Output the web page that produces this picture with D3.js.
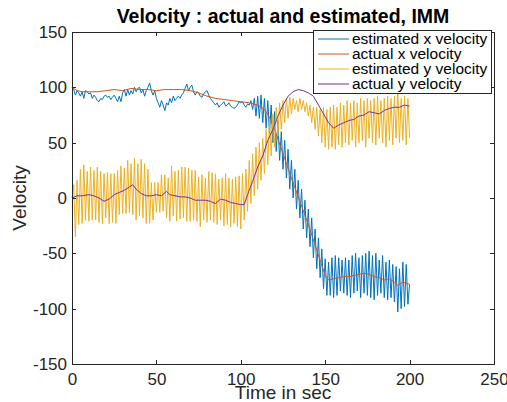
<!DOCTYPE html>
<html>
<head>
<meta charset="utf-8">
<script src="https://cdn.jsdelivr.net/npm/d3@7"></script>
<style>
  body { margin: 0; background: #fff; }
  svg { display: block; font-family: "Liberation Sans", Arial, sans-serif; }
</style>
</head>
<body>
<svg id="container" width="507" height="402"></svg>
<script>
const width = 507;
const height = 402;
const margin = ({top: 32, right: 13, bottom: 38, left: 72});

const xTicks = [0, 50, 100, 150, 200, 250];
const yTicks = [-150, -100, -50, 0, 50, 100, 150];

const seriesNames = ["estimated x velocity", "actual x velocity", "estimated y velocity", "actual y velocity"];
const colors = ["#0072BD", "#D95319", "#EDB120", "#7E2F8E"];

// estimated series, one value per second, t = 0..200
const estTime = d3.range(0, 201);
const estX = [
  100,98,93,97,95,92,96,90,97,96,
  94,95,90,93,91,88,87,90,89,92,
  93,91,92,89,91,93,90,87,92,87,
  95,98,92,98,93,97,94,100,96,99,
  100,95,98,92,97,100,104,97,93,97,
  90,86,82,88,84,79,86,84,90,86,
  92,88,90,92,90,93,95,99,103,97,
  100,102,96,93,96,95,92,91,94,96,
  97,93,90,88,86,84,86,82,84,85,
  87,83,84,86,83,82,81,82,84,87,
  86,87,84,82,85,84,88,80,90,74,
  92,72,93,68,90,63,88,58,84,50,
  78,42,70,34,60,26,52,18,44,8,
  34,0,26,-10,16,-18,8,-28,-2,-36,
  -10,-44,-18,-54,-28,-64,-36,-72,-46,-82,
  -55,-88,-58,-88,-54,-90,-52,-88,-54,-84,
  -56,-86,-54,-88,-56,-90,-52,-86,-50,-84,
  -54,-90,-52,-86,-50,-88,-48,-90,-52,-92,
  -50,-88,-56,-86,-52,-90,-58,-92,-56,-90,
  -60,-94,-62,-103,-64,-100,-58,-98,-60,-96,
  -78
];
const estY = [
  0,12,-35,16,-24,26,-23,30,-20,24,
  -21,28,-20,25,-20,28,-22,24,-23,22,
  -18,23,-23,22,-22,22,-23,25,-15,29,
  -14,27,-14,34,-13,31,-15,36,-20,31,
  -16,35,-18,31,-23,26,-23,14,-20,14,
  -13,14,-13,21,-12,21,-18,18,-21,29,
  -16,24,-21,25,-19,28,-18,28,-21,27,
  -21,25,-20,25,-21,19,-26,21,-20,18,
  -22,24,-20,23,-22,22,-24,17,-20,18,
  -25,22,-24,18,-26,17,-23,19,-26,20,
  -28,22,-20,26,-12,34,-5,40,2,46,
  8,50,16,54,22,62,30,70,38,76,
  46,82,56,86,62,88,68,90,72,91,
  76,90,80,88,78,90,80,88,78,86,
  74,84,68,82,62,82,56,80,50,82,
  46,80,44,82,46,84,44,82,48,86,
  46,84,50,88,48,86,52,88,46,86,
  50,90,52,88,46,90,54,88,50,90,
  48,92,54,88,50,90,46,92,52,90,
  48,92,54,98,50,90,52,92,48,90,
  54
];

// actual series
const actXTime = [0,3,6,10,15,20,25,30,35,40,45,50,55,60,65,70,75,80,85,90,95,100,105,110,114,117,120,125,130,135,140,145,150,152,155,158,161,164,167,170,173,176,179,182,185,188,191,193,196,200];
const actX = [100,97,96,96,96,97,98,97,99,98,98,97,98,98,98,97,95,92,90,89,88,87,86,84,80,73,62,40,18,-3,-24,-47,-70,-74,-73,-72,-71,-71,-70,-69,-68,-69,-71,-72,-74,-73,-76,-79,-76,-78];
const actYTime = [0,3,6,10,13,16,19,22,25,28,31,34,36,38,41,44,47,50,53,56,58,61,64,67,70,73,76,79,82,85,88,91,94,97,100,102,104,107,110,113,116,119,122,125,128,131,134,137,140,143,146,149,152,155,158,161,164,167,170,173,176,179,182,185,188,191,194,197,200];
const actY = [0,2,2,3,2,0,-3,-1,3,5,7,10,12,8,4,2,2,3,2,6,3,2,1,1,0,-2,-2,-2,-3,-5,-1,-2,-4,-5,-6,-6,3,15,28,38,52,62,74,84,92,96,98,97,95,92,84,76,68,63,66,68,70,71,74,75,78,77,76,79,81,82,82,84,83];

const series = [
  {time: estTime, values: estX},
  {time: actXTime, values: actX},
  {time: estTime, values: estY},
  {time: actYTime, values: actY}
];

const x = d3.scaleLinear().domain([0, 250]).range([margin.left, width - margin.right]);
const y = d3.scaleLinear().domain([-150, 150]).range([height - margin.bottom, margin.top]);

const axisColor = "#262626";
const plainNumber = d => String(d);
const svg = d3.select("#container");

const line = d3.line()
  .x(d => x(d[0]))
  .y(d => y(d[1]));

svg.append("g")
  .attr("fill", "none")
  .attr("stroke-width", 1)
  .attr("stroke-linejoin", "round")
  .selectAll("path")
  .data(series)
  .join("path")
  .attr("stroke", (d, i) => colors[i])
  .attr("d", d => line(d.values.map((v, i) => [d.time[i], v])));

const styleAxis = g => {
  g.select(".domain").attr("stroke", axisColor);
  g.selectAll(".tick line").attr("stroke", axisColor);
  g.selectAll(".tick text").attr("fill", axisColor).attr("font-size", 17);
};

svg.append("g")
  .attr("transform", `translate(0,${height - margin.bottom})`)
  .call(d3.axisBottom(x).tickValues(xTicks).tickFormat(plainNumber).tickSizeInner(-4).tickSizeOuter(0).tickPadding(9))
  .call(styleAxis);

svg.append("g")
  .attr("transform", `translate(0,${margin.top})`)
  .call(d3.axisTop(x).tickValues(xTicks).tickSizeInner(-4).tickSizeOuter(0).tickFormat(""))
  .call(styleAxis);

svg.append("g")
  .attr("transform", `translate(${margin.left},0)`)
  .call(d3.axisLeft(y).tickValues(yTicks).tickFormat(plainNumber).tickSizeInner(-4).tickSizeOuter(0).tickPadding(5))
  .call(styleAxis);

svg.append("g")
  .attr("transform", `translate(${width - margin.right},0)`)
  .call(d3.axisRight(y).tickValues(yTicks).tickSizeInner(-4).tickSizeOuter(0).tickFormat(""))
  .call(styleAxis);

svg.selectAll(".domain, .tick line").attr("shape-rendering", "crispEdges");

// title and axis labels
svg.append("text")
  .attr("x", (margin.left + width - margin.right) / 2)
  .attr("y", 23)
  .attr("text-anchor", "middle")
  .attr("font-weight", "bold")
  .attr("font-size", 19.5)
  .attr("fill", "#000")
  .text("Velocity : actual and estimated, IMM");

svg.append("text")
  .attr("x", (margin.left + width - margin.right) / 2)
  .attr("y", 399)
  .attr("text-anchor", "middle")
  .attr("font-size", 19)
  .attr("fill", axisColor)
  .text("Time in sec");

svg.append("text")
  .attr("transform", `translate(26,${(margin.top + height - margin.bottom) / 2}) rotate(-90)`)
  .attr("text-anchor", "middle")
  .attr("font-size", 19)
  .attr("fill", axisColor)
  .text("Velocity");

// legend
const legend = svg.append("g").attr("transform", "translate(313,30)");
legend.append("rect")
  .attr("x", 0.5).attr("y", 0.5)
  .attr("width", 178).attr("height", 63)
  .attr("fill", "#fff")
  .attr("stroke", axisColor)
  .attr("stroke-width", 1);

const item = legend.selectAll("g.item")
  .data(seriesNames)
  .join("g")
  .attr("class", "item")
  .attr("transform", (d, i) => `translate(0,${9 + i * 15})`);

item.append("line")
  .attr("x1", 5).attr("x2", 36)
  .attr("stroke", (d, i) => colors[i])
  .attr("stroke-width", 1);

item.append("text")
  .attr("x", 39)
  .attr("dy", "0.35em")
  .attr("font-size", 15.5)
  .attr("fill", "#000")
  .text(d => d);
</script>
</body>
</html>
